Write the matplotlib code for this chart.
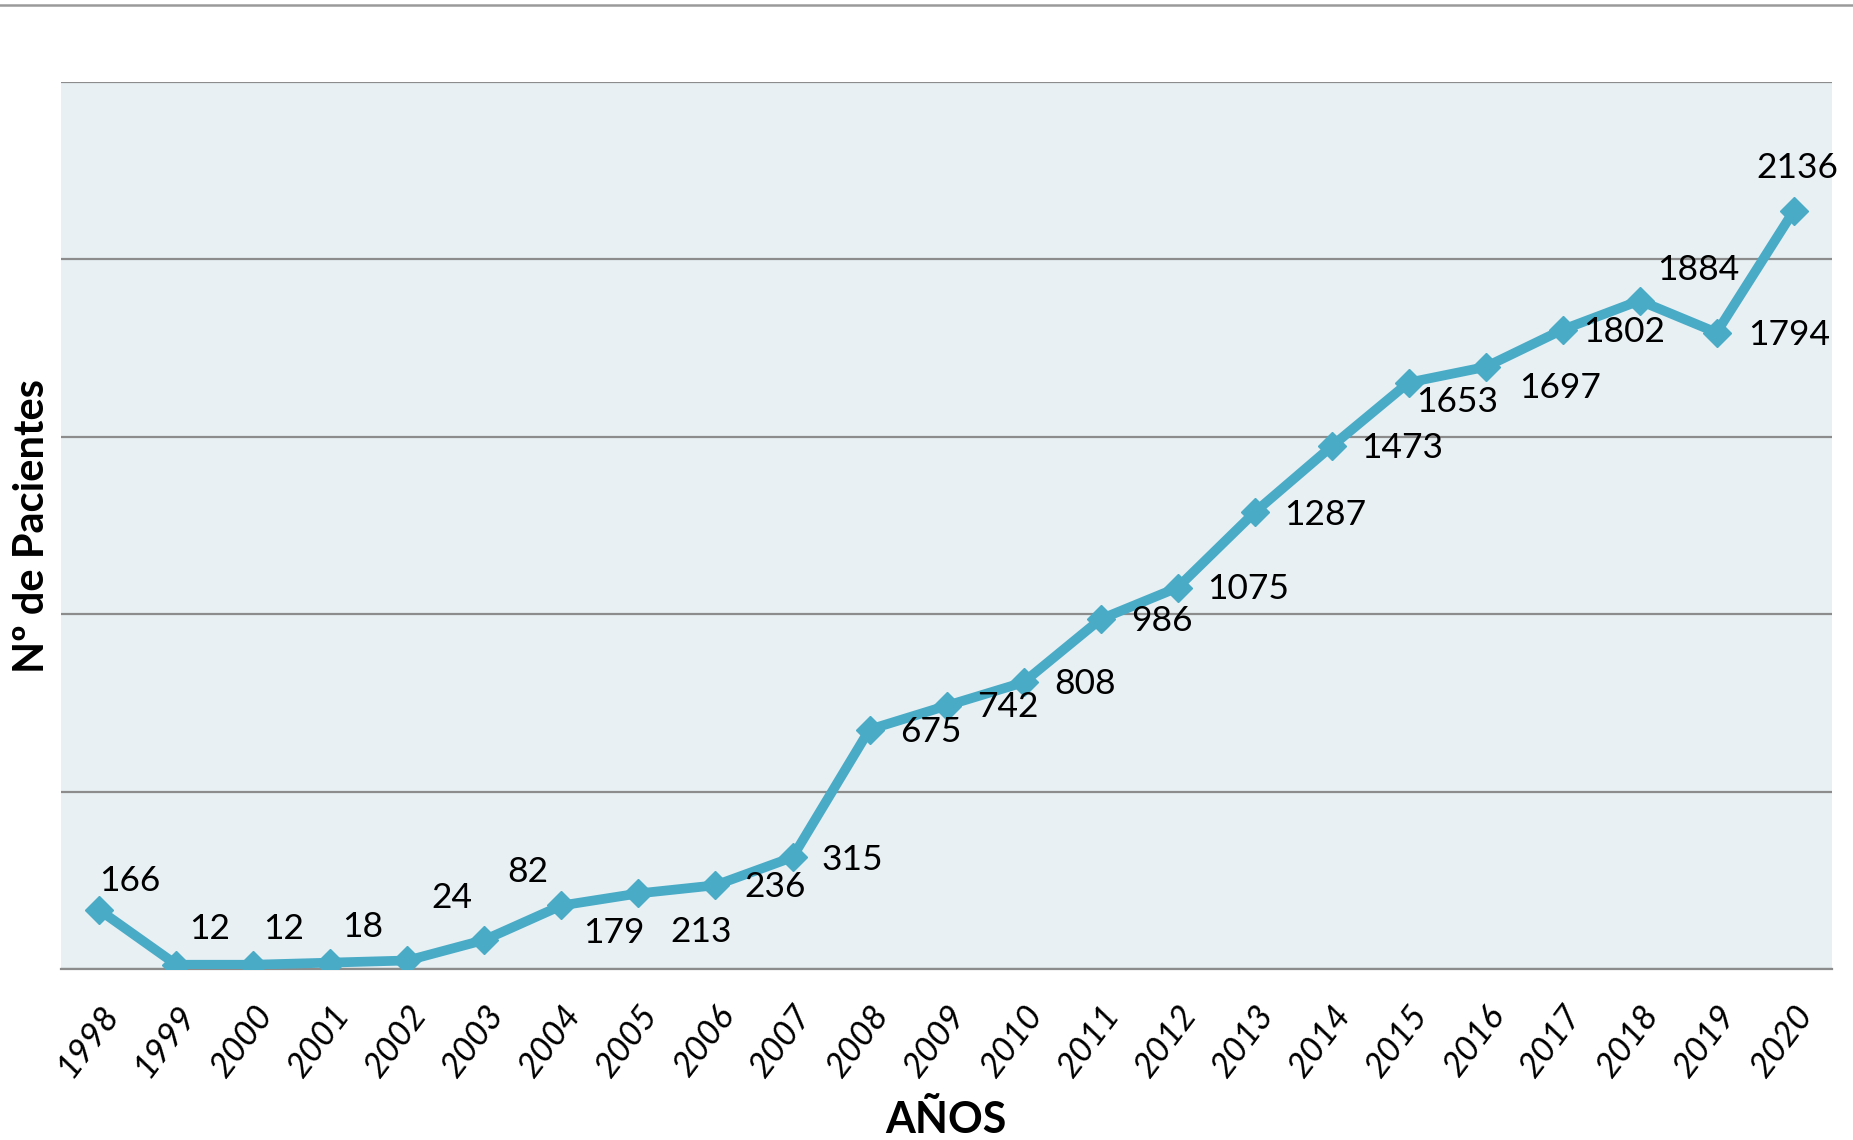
import matplotlib.pyplot as plt
from matplotlib.lines import Line2D

# datos
years = ['1998', '1999', '2000', '2001', '2002', '2003', '2004', '2005', '2006', '2007', '2008',
         '2009', '2010', '2011', '2012', '2013', '2014', '2015', '2016', '2017', '2018', '2019', '2020']
pacientes = [166, 12, 12, 18, 24, 82, 179, 213, 236, 315, 675,
             742, 808, 986, 1075, 1287, 1473, 1653, 1697, 1802, 1884, 1794, 2136]

# desplazamiento de cada etiqueta (en puntos, x a la derecha, y hacia arriba)
label_offsets = [(22, 21), (24, 26), (22, 26), (23, 26), (32, 45), (31, 49), (38, -20), (45, -28),
                 (43, -1), (43, -2), (44, -2), (44, -1), (44, -1), (44, -1), (51, -1), (51, -2),
                 (51, -1), (35, -14), (54, -15), (44, -2), (42, 22), (52, -2), (3, 31)]

plt.rcParams['font.family'] = ['Lato', 'DejaVu Sans']

fig = plt.figure(figsize=(18.53, 11.40), dpi=100)
ax = fig.add_axes([0.0329, 0.150, 0.9558, 0.778])
ax.set_facecolor('#e8f0f4')

x = list(range(len(years)))
ax.plot(x, pacientes, color='#4aabc6', linewidth=7, marker='D', markersize=14,
        markeredgecolor='#4aabc6', zorder=3)

for i, v in enumerate(pacientes):
    ax.annotate(str(v), (i, v), xytext=label_offsets[i], textcoords='offset points',
                ha='center', va='center', fontsize=25.5, color='black', zorder=4)

ax.set_xlim(-0.5, len(years) - 0.5)
ax.set_ylim(0, 2500)
ax.set_yticks([0, 500, 1000, 1500, 2000, 2500])
ax.set_yticklabels([])
ax.grid(axis='y', color='#8c8c8c', linewidth=1.6)
ax.set_axisbelow(True)
ax.tick_params(axis='both', length=0)
for s in ['top', 'right', 'left']:
    ax.spines[s].set_visible(False)
ax.spines['bottom'].set_color('#8c8c8c')
ax.spines['bottom'].set_linewidth(1.6)

ax.set_xticks(x)
ax.set_xticklabels(years, rotation=53, ha='right', va='top', rotation_mode='anchor',
                   fontsize=25, fontstyle='italic')
ax.tick_params(axis='x', pad=22)

ax.set_ylabel('Nº de Pacientes', fontsize=30, fontweight='bold', labelpad=4)
fig.text(0.5106, 0.0175, 'AÑOS', ha='center', va='center', fontsize=31, fontweight='bold')

fig.add_artist(Line2D([0, 1], [0.9956, 0.9956], color='#9a9a9a', linewidth=1.8))

fig.savefig('out.png', dpi=100)
